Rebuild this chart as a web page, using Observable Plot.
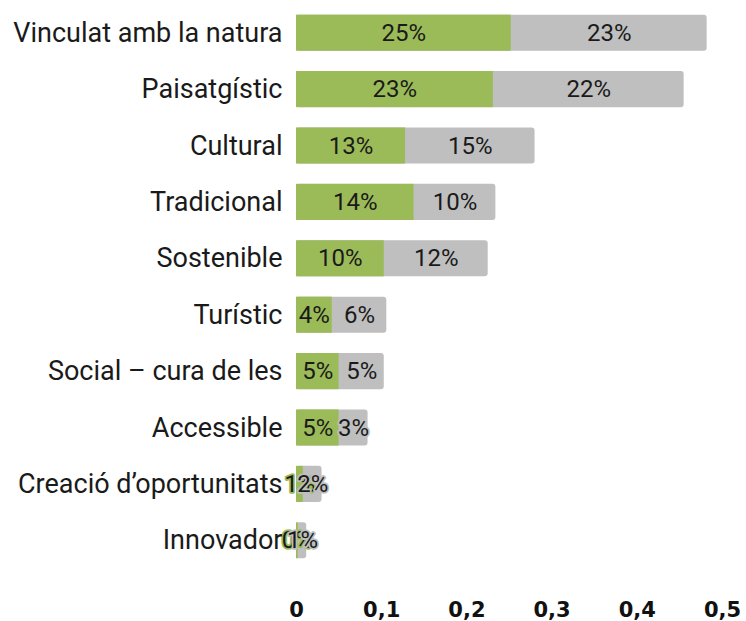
<!DOCTYPE html>
<html>
<head>
<meta charset="utf-8">
<script src="https://cdn.jsdelivr.net/npm/d3@7"></script>
<script src="https://cdn.jsdelivr.net/npm/@observablehq/plot@0.6"></script>
<style>
  body { margin: 0; background: #fff; }
  #chart svg { display: block; }
</style>
</head>
<body>
<div id="chart"></div>
<script>
const categories = ["Vinculat amb la natura", "Paisatgístic", "Cultural", "Tradicional", "Sostenible", "Turístic", "Social – cura de les", "Accessible", "Creació d’oportunitats", "Innovador"];
const greenValues = [0.252, 0.231, 0.128, 0.138, 0.103, 0.042, 0.050, 0.050, 0.008, 0.002];
const greyValues  = [0.230, 0.224, 0.152, 0.096, 0.122, 0.064, 0.053, 0.034, 0.022, 0.010];
const xTicks = [0, 0.1, 0.2, 0.3, 0.4, 0.5];

const GREEN = "#9bbb59", GREY = "#bfbfbf";

const rows = categories.map((c, i) => ({
  cat: c,
  g: greenValues[i],
  r: greyValues[i],
  total: greenValues[i] + greyValues[i]
}));

const fmt = v => Math.round(v * 100) + "%";

const plot = Plot.plot({
  width: 746,
  height: 621,
  marginLeft: 296,
  marginRight: 24,
  marginTop: 9,
  marginBottom: 57,
  style: {fontFamily: "Roboto, sans-serif", color: "#222", background: "#fff"},
  x: {domain: [0, 0.5]},
  y: {domain: categories, paddingInner: 0.36, paddingOuter: 0.1, round: false},
  marks: [
    Plot.barX(rows, {y: "cat", x1: 0, x2: "total", fill: GREY, rx: 3}),
    Plot.barX(rows, {y: "cat", x1: 0, x2: "g", fill: GREEN}),
    Plot.text(rows, {
      y: "cat", x: d => d.g / 2,
      text: d => fmt(d.g),
      fill: "#1a1a1a", stroke: GREEN, strokeWidth: 3.5,
      fontSize: 24, fontFamily: "Roboto, sans-serif"
    }),
    Plot.text(rows, {
      y: "cat", x: d => d.g + d.r / 2,
      text: d => fmt(d.r),
      fill: "#1a1a1a", stroke: GREY, strokeWidth: 3.5,
      fontSize: 24, fontFamily: "Roboto, sans-serif"
    }),
    Plot.axisY({tickSize: 0, tickPadding: 14, fontSize: 27, label: null, fill: "#1a1a1a"}),
    Plot.axisX({
      ticks: xTicks, tickSize: 0, tickPadding: 38, fontSize: 21, fontWeight: "bold", label: null,
      fontFamily: "DejaVu Sans, sans-serif",
      tickFormat: d => d === 0 ? "0" : String(d).replace(".", ","), fill: "#111"
    })
  ]
});

document.getElementById("chart").appendChild(plot);
</script>
</body>
</html>
